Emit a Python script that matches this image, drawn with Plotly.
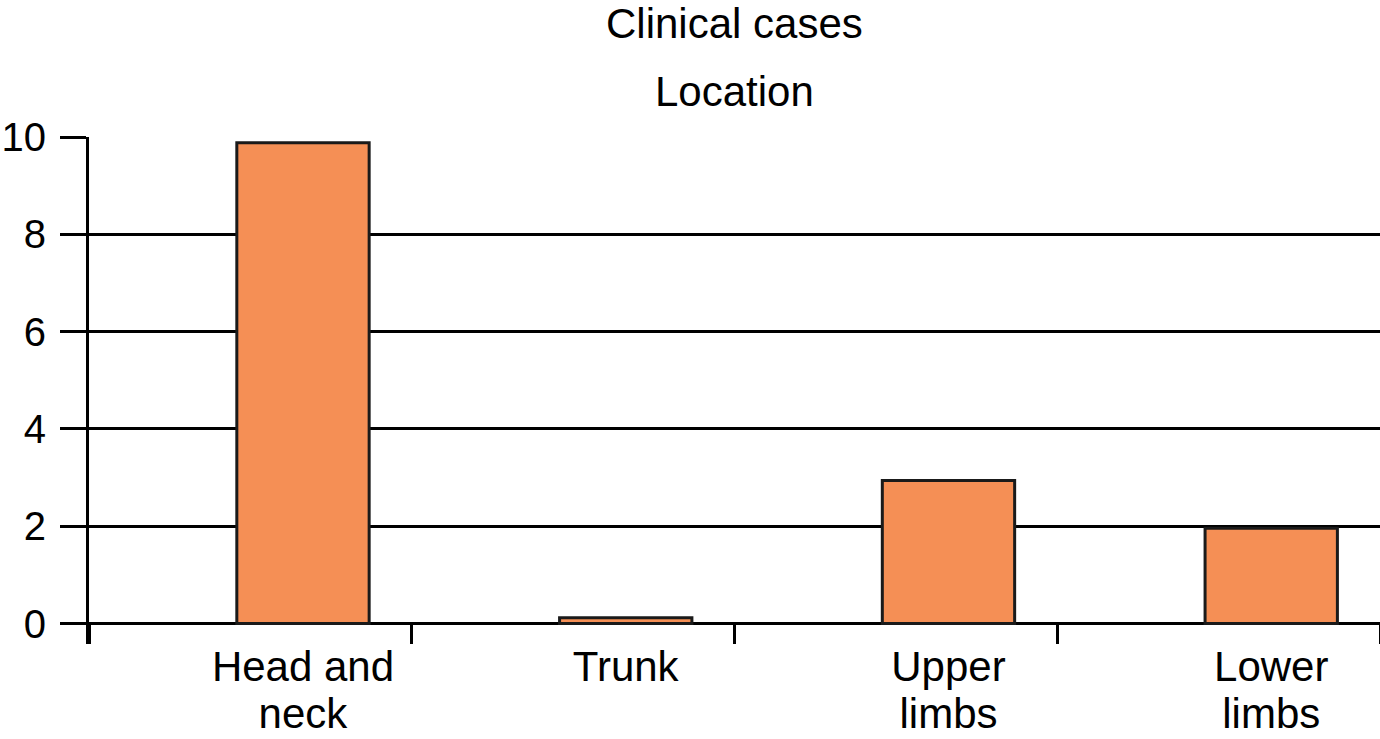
import plotly.graph_objects as go

categories = ["Head and neck", "Trunk", "Upper limbs", "Lower limbs"]
label_line1 = ["Head and", "Trunk", "Upper", "Lower"]
label_line2 = ["neck", "", "limbs", "limbs"]
cases = [9.88, 0.12, 2.94, 1.96]
y_ticks = [0, 2, 4, 6, 8, 10]

BAR_OFFSET = 0.663
BAR_WIDTH = 0.41
positions = [i + BAR_OFFSET for i in range(len(categories))]
boundaries = list(range(len(categories) + 1))

FONT = "Liberation Sans, Arial, Helvetica, sans-serif"
FS = 42

fig = go.Figure()

fig.add_trace(
    go.Bar(
        x=positions,
        y=cases,
        width=BAR_WIDTH,
        customdata=categories,
        hovertemplate="%{customdata}: %{y}<extra></extra>",
        marker=dict(color="#F58F55", line=dict(color="#1a1a1a", width=3)),
    )
)

# invisible trace to activate the second x axis (ticks + second line of labels)
fig.add_trace(go.Scatter(x=[positions[0]], y=[0], xaxis="x2", mode="markers",
                         marker=dict(opacity=0), hoverinfo="skip", showlegend=False))

fig.update_layout(
    width=1380,
    height=739,
    paper_bgcolor="white",
    plot_bgcolor="white",
    showlegend=False,
    margin=dict(l=89, r=0, t=137, b=95, autoexpand=False),
    font=dict(family=FONT, color="black", size=FS),
    annotations=[
        dict(text="Clinical cases", xref="paper", yref="paper", x=0.5, y=1,
             yshift=114, showarrow=False, font=dict(size=FS), xanchor="center", yanchor="middle"),
        dict(text="Location", xref="paper", yref="paper", x=0.5, y=1,
             yshift=46, showarrow=False, font=dict(size=FS), xanchor="center", yanchor="middle"),
    ],
    xaxis=dict(
        automargin=False,
        anchor="free",
        position=0.012,
        range=[0, len(categories)],
        tickmode="array",
        tickvals=positions,
        ticktext=label_line1,
        ticks="",
        showgrid=False,
        zeroline=False,
        showline=False,
        tickfont=dict(size=FS, color="black"),
        fixedrange=True,
    ),
    xaxis2=dict(
        automargin=False,
        overlaying="x",
        matches="x",
        anchor="y",
        side="bottom",
        tickmode="array",
        tickvals=positions,
        ticktext=label_line2,
        ticks="",
        showgrid=False,
        zeroline=False,
        showline=False,
        ticklabelstandoff=41,
        tickfont=dict(size=FS, color="black"),
        minor=dict(tickmode="array", tickvals=boundaries, ticks="inside", ticklen=19,
                   tickwidth=3, tickcolor="black", showgrid=False),
        fixedrange=True,
    ),
    yaxis=dict(
        automargin=False,
        range=[-0.42, 10],
        tickmode="array",
        tickvals=y_ticks,
        ticks="outside",
        ticklen=26,
        tickwidth=3,
        tickcolor="black",
        showgrid=True,
        gridcolor="black",
        gridwidth=3,
        zeroline=True,
        zerolinecolor="black",
        zerolinewidth=3,
        showline=True,
        linecolor="black",
        linewidth=3,
        ticklabelstandoff=6,
        tickfont=dict(size=40, color="black"),
        fixedrange=True,
    ),
)

fig.write_html("out.html", config={"displayModeBar": False},
               post_script="document.body.style.margin='0';")
